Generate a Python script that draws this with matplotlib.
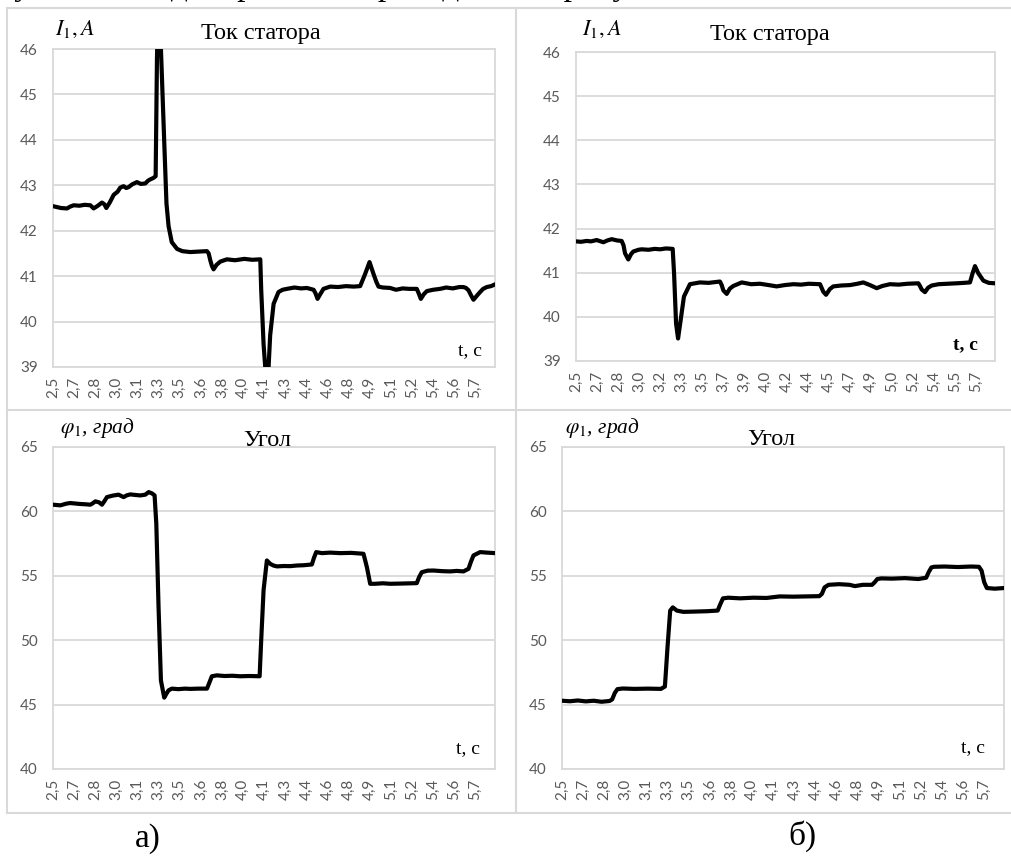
import matplotlib
matplotlib.use("Agg")
import matplotlib.pyplot as plt
from matplotlib.lines import Line2D

# ---------------- data ----------------
# (a) stator current
t_cur_a = [2.500, 2.530, 2.560, 2.606, 2.630, 2.657, 2.700, 2.740, 2.783, 2.808, 2.840, 2.871, 2.890, 2.904,
           2.930, 2.960, 2.990, 3.010, 3.035, 3.055, 3.073, 3.100, 3.136, 3.165, 3.199, 3.220, 3.237, 3.260,
           3.278, 3.288, 3.300, 3.318, 3.345, 3.360, 3.376, 3.400, 3.440, 3.480, 3.540, 3.600, 3.667, 3.680,
           3.692, 3.705, 3.717, 3.740, 3.768, 3.818, 3.880, 3.950, 4.010, 4.071, 4.078, 4.096, 4.116, 4.134,
           4.146, 4.172, 4.209, 4.240, 4.273, 4.330, 4.380, 4.424, 4.475, 4.490, 4.505, 4.525, 4.550, 4.601,
           4.660, 4.720, 4.780, 4.828, 4.845, 4.866, 4.899, 4.929, 4.950, 4.967, 5.000, 5.055, 5.100, 5.150,
           5.200, 5.257, 5.272, 5.288, 5.310, 5.333, 5.380, 5.434, 5.480, 5.530, 5.580, 5.611, 5.630, 5.649,
           5.668, 5.687, 5.710, 5.737, 5.760, 5.788, 5.820, 5.851]
i_cur_a = [42.54, 42.52, 42.50, 42.49, 42.53, 42.56, 42.55, 42.57, 42.56, 42.49, 42.55, 42.62, 42.58, 42.50,
           42.62, 42.79, 42.86, 42.95, 42.98, 42.94, 42.96, 43.02, 43.07, 43.03, 43.04, 43.10, 43.13, 43.16,
           43.20, 45.80, 47.20, 46.00, 43.80, 42.60, 42.10, 41.75, 41.60, 41.55, 41.53, 41.54, 41.55, 41.50,
           41.35, 41.22, 41.15, 41.25, 41.32, 41.37, 41.35, 41.38, 41.36, 41.37, 40.70, 39.50, 38.70, 39.00,
           39.70, 40.39, 40.65, 40.70, 40.72, 40.75, 40.73, 40.74, 40.70, 40.62, 40.50, 40.60, 40.72, 40.77,
           40.76, 40.78, 40.77, 40.78, 40.90, 41.05, 41.31, 41.05, 40.88, 40.77, 40.75, 40.74, 40.70, 40.73,
           40.72, 40.72, 40.62, 40.50, 40.60, 40.67, 40.70, 40.72, 40.75, 40.73, 40.76, 40.76, 40.74, 40.69,
           40.58, 40.48, 40.56, 40.65, 40.72, 40.76, 40.78, 40.82]

# (б) stator current
t_cur_b = [2.500, 2.540, 2.585, 2.620, 2.665, 2.719, 2.750, 2.785, 2.830, 2.865, 2.880, 2.892, 2.918, 2.940,
           2.958, 3.000, 3.025, 3.080, 3.130, 3.172, 3.220, 3.273, 3.284, 3.300, 3.316, 3.337, 3.363, 3.411,
           3.450, 3.491, 3.560, 3.620, 3.651, 3.665, 3.678, 3.705, 3.730, 3.758, 3.825, 3.900, 3.971, 4.040,
           4.104, 4.170, 4.238, 4.300, 4.360, 4.451, 4.465, 4.477, 4.499, 4.530, 4.557, 4.620, 4.691, 4.750,
           4.797, 4.850, 4.904, 4.950, 5.010, 5.080, 5.150, 5.237, 5.250, 5.264, 5.290, 5.315, 5.344, 5.400,
           5.470, 5.543, 5.600, 5.650, 5.662, 5.671, 5.690, 5.716, 5.757, 5.800, 5.850]
i_cur_b = [41.71, 41.70, 41.72, 41.71, 41.74, 41.69, 41.73, 41.76, 41.73, 41.72, 41.62, 41.44, 41.30, 41.42,
           41.48, 41.52, 41.53, 41.52, 41.54, 41.53, 41.55, 41.54, 40.99, 39.85, 39.51, 39.93, 40.46, 40.74,
           40.76, 40.78, 40.77, 40.79, 40.80, 40.72, 40.60, 40.52, 40.64, 40.70, 40.78, 40.74, 40.75, 40.72,
           40.69, 40.72, 40.74, 40.73, 40.75, 40.74, 40.65, 40.57, 40.50, 40.63, 40.69, 40.71, 40.72, 40.75,
           40.78, 40.72, 40.65, 40.70, 40.74, 40.73, 40.75, 40.76, 40.70, 40.62, 40.56, 40.66, 40.71, 40.74,
           40.75, 40.76, 40.77, 40.78, 40.90, 40.99, 41.15, 40.99, 40.82, 40.77, 40.76]

# (a) angle
t_ang_a = [2.500, 2.556, 2.600, 2.631, 2.700, 2.750, 2.783, 2.800, 2.821, 2.850, 2.871, 2.890, 2.909, 2.950,
           2.997, 3.035, 3.060, 3.086, 3.120, 3.162, 3.200, 3.225, 3.250, 3.270, 3.283, 3.300, 3.318, 3.343,
           3.360, 3.376, 3.401, 3.450, 3.500, 3.540, 3.600, 3.667, 3.685, 3.704, 3.742, 3.800, 3.860, 3.919,
           3.990, 4.066, 4.078, 4.096, 4.121, 4.146, 4.170, 4.197, 4.250, 4.298, 4.350, 4.400, 4.462, 4.478,
           4.495, 4.538, 4.600, 4.677, 4.760, 4.853, 4.866, 4.879, 4.904, 4.942, 5.000, 5.055, 5.150, 5.257,
           5.275, 5.295, 5.340, 5.384, 5.450, 5.510, 5.560, 5.611, 5.649, 5.668, 5.687, 5.737, 5.790, 5.851]
phi_a = [60.52, 60.47, 60.60, 60.65, 60.58, 60.55, 60.52, 60.62, 60.78, 60.70, 60.52, 60.80, 61.11, 61.22,
         61.30, 61.11, 61.25, 61.32, 61.28, 61.24, 61.30, 61.50, 61.40, 61.24, 59.04, 52.56, 46.87, 45.54,
         45.85, 46.11, 46.24, 46.20, 46.24, 46.22, 46.24, 46.24, 46.70, 47.20, 47.27, 47.22, 47.24, 47.20,
         47.22, 47.20, 50.00, 53.90, 56.19, 55.93, 55.80, 55.73, 55.76, 55.75, 55.80, 55.82, 55.88, 56.40,
         56.84, 56.76, 56.80, 56.76, 56.78, 56.71, 56.20, 55.67, 54.38, 54.38, 54.42, 54.38, 54.40, 54.43,
         54.90, 55.28, 55.40, 55.41, 55.36, 55.34, 55.38, 55.34, 55.54, 56.10, 56.58, 56.84, 56.80, 56.76]

# (б) angle
t_ang_b = [2.500, 2.560, 2.620, 2.680, 2.740, 2.800, 2.860, 2.880, 2.900, 2.920, 2.960, 3.050, 3.150, 3.250,
           3.280, 3.300, 3.320, 3.340, 3.370, 3.420, 3.500, 3.600, 3.680, 3.700, 3.720, 3.760, 3.850, 3.950,
           4.050, 4.150, 4.250, 4.350, 4.450, 4.470, 4.490, 4.520, 4.600, 4.680, 4.720, 4.780, 4.850, 4.870,
           4.890, 4.920, 5.000, 5.100, 5.200, 5.260, 5.280, 5.300, 5.320, 5.400, 5.500, 5.600, 5.660, 5.680,
           5.700, 5.720, 5.780, 5.850]
phi_b = [45.30, 45.26, 45.32, 45.25, 45.30, 45.22, 45.28, 45.40, 45.90, 46.20, 46.25, 46.22, 46.24, 46.22,
         46.40, 49.50, 52.30, 52.55, 52.30, 52.20, 52.22, 52.25, 52.30, 52.80, 53.25, 53.30, 53.25, 53.30,
         53.28, 53.40, 53.38, 53.40, 53.42, 53.60, 54.10, 54.30, 54.35, 54.30, 54.20, 54.30, 54.30, 54.50,
         54.75, 54.80, 54.78, 54.82, 54.75, 54.85, 55.30, 55.65, 55.70, 55.72, 55.68, 55.72, 55.70, 55.40,
         54.50, 54.05, 54.00, 54.05]

# tick labels
xlabels_a = ["2,5", "2,7", "2,8", "3,0", "3,1", "3,3", "3,5", "3,6", "3,8", "4,0", "4,1",
             "4,3", "4,4", "4,6", "4,8", "4,9", "5,1", "5,2", "5,4", "5,6", "5,7"]
xlabels_b = ["2,5", "2,7", "2,8", "3,0", "3,2", "3,3", "3,5", "3,7", "3,9", "4,0",
             "4,2", "4,4", "4,5", "4,7", "4,9", "5,0", "5,2", "5,4", "5,5", "5,7"]
yticks_cur = [39, 40, 41, 42, 43, 44, 45, 46]
yticks_ang = [40, 45, 50, 55, 60, 65]

# ---------------- figure ----------------
W, H = 1011, 856
plt.rcParams["mathtext.fontset"] = "stix"
plt.rcParams["font.family"] = ["Lato", "DejaVu Sans"]
fig = plt.figure(figsize=(W / 100, H / 100), dpi=100)

GRID = "#d9d9d9"
TICKC = "#595959"
SERIF = ["Liberation Serif", "DejaVu Serif"]


def rect(x0, y0, x1, y1):
    return [x0 / W, 1 - y1 / H, (x1 - x0) / W, (y1 - y0) / H]


def fx(x):
    return x / W


def fy(y):
    return 1 - y / H


# background frame lines (chart object borders)
bg = fig.add_axes([0, 0, 1, 1])
bg.set_xlim(0, W)
bg.set_ylim(H, 0)
bg.axis("off")
for seg in [((7, 7), (8, 813)), ((7, 1011), (8, 8)), ((7, 1011), (813, 813)),
            ((516, 516), (8, 813)), ((7, 1011), (410, 410))]:
    bg.add_line(Line2D(seg[0], seg[1], color=GRID, lw=1.5))


def make_axes(r, t, y, ylim, yticks, labels):
    ax = fig.add_axes(r)
    ax.plot(t, y, color="black", lw=3.0, solid_joinstyle="round", solid_capstyle="round", zorder=3)
    ax.set_xlim(2.5, 5.85)
    ax.set_ylim(*ylim)
    ax.set_yticks(yticks)
    ax.set_yticklabels([str(v) for v in yticks])
    n = len(labels)
    step = (5.7 - 2.5) / (n - 1)
    ax.set_xticks([2.5 + k * step for k in range(n)])
    ax.set_xticklabels(labels, rotation=90)
    for s in ax.spines.values():
        s.set_color(GRID)
        s.set_linewidth(1.3)
    ax.grid(axis="y", color=GRID, lw=1.3)
    ax.set_axisbelow(True)
    ax.tick_params(axis="both", length=0, colors=TICKC, labelsize=11)
    ax.tick_params(axis="y", pad=11)
    ax.tick_params(axis="x", pad=7)
    return ax


make_axes(rect(53, 49, 495, 367), t_cur_a, i_cur_a, (39, 46), yticks_cur, xlabels_a)
make_axes(rect(576, 52, 995, 361), t_cur_b, i_cur_b, (39, 46), yticks_cur, xlabels_b)
make_axes(rect(53, 447, 495, 769), t_ang_a, phi_a, (40, 65), yticks_ang, xlabels_a)
make_axes(rect(562, 447, 1004, 769), t_ang_b, phi_b, (40, 65), yticks_ang, xlabels_a)

# titles
for (x, y, s) in [(261, 39, "Ток статора"), (770, 40, "Ток статора"),
                  (267, 446, "Угол"), (771, 445, "Угол")]:
    fig.text(fx(x), fy(y), s, ha="center", va="baseline", fontsize=17.5, family=SERIF)

# y-axis names
for (x, y) in [(55, 35), (582, 35)]:
    fig.text(fx(x), fy(y), r"$I_1, A$", ha="left", va="baseline", fontsize=16)
for (x, y) in [(60, 433), (565, 433)]:
    fig.text(fx(x), fy(y), r"$\varphi_1$, град", ha="left", va="baseline", fontsize=15.5,
             family=SERIF, style="italic")

# x-axis names
for (x, y, w) in [(482, 355, "normal"), (978, 349, "bold"), (480, 753, "normal"), (985, 752, "normal")]:
    fig.text(fx(x), fy(y), "t, c", ha="right", va="baseline", fontsize=14, family=SERIF, weight=w)

# captions
fig.text(fx(135), fy(847), "а)", ha="left", va="baseline", fontsize=24, family=SERIF)
fig.text(fx(788), fy(845), "б)", ha="left", va="baseline", fontsize=24, family=SERIF)

# clipped line of document text above the figure (only descenders visible)
fig.text(fx(-30), fy(-5), "результаты моделирования приведены на рисунке 6.",
         ha="left", va="baseline", fontsize=24, family=SERIF)

fig.savefig("out.png", dpi=100, facecolor="white")
